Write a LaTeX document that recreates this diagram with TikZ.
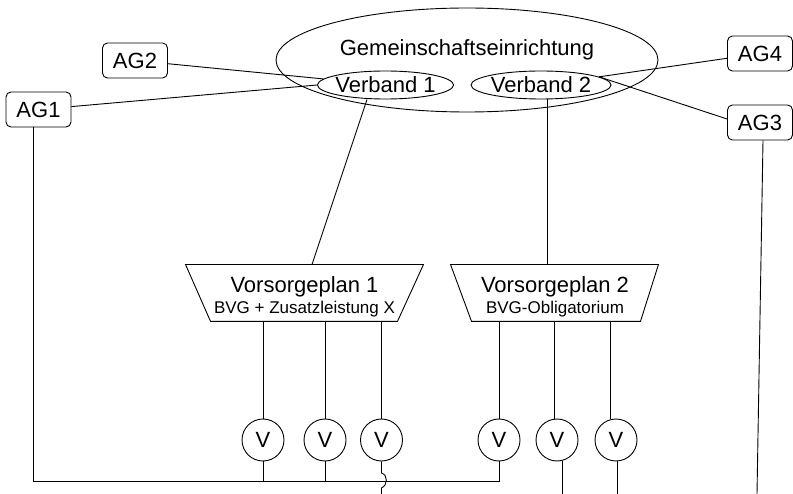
\documentclass[tikz,border=0pt]{standalone}
\usepackage{fontspec}
\setmainfont{Liberation Sans}
\usetikzlibrary{shapes.geometric}
\begin{document}
\begin{tikzpicture}[x=1pt,y=-1pt,
  every node/.style={font=\fontsize{22}{21}\selectfont, inner sep=0pt},
  every path/.style={line width=0.9pt},
  agbox/.style={draw, rounded corners=5pt, minimum width=65pt, minimum height=35pt},
  verb/.style={draw, ellipse, minimum height=28pt},
  planbox/.style={minimum height=56pt},
  smalltext/.style={font=\fontsize{17}{21}\selectfont, anchor=base},
  bigtext/.style={anchor=base},
  vcirc/.style={draw, circle, minimum size=42pt}
]
\useasboundingbox (0,0) rectangle (793,494);

% community institution
\node[draw, ellipse, minimum width=382pt, minimum height=104pt] (GE) at (467,60) {};
\node[bigtext] (GEt) at (467,56) {Gemeinschaftseinrichtung};
\node[verb, minimum width=136pt] (V1) at (385.5,85) {\makebox[0pt]{Verband 1}};
\node[verb, minimum width=140pt] (V2) at (541,85) {\makebox[0pt]{Verband 2}};

% employers
\node[agbox] (AG1) at (38.5,109.5) {AG1};
\node[agbox] (AG2) at (135,60.5) {AG2};
\node[agbox] (AG4) at (760,53.5) {AG4};
\node[agbox] (AG3) at (760,122.5) {AG3};

% plans
\node[planbox, minimum width=237pt] (VP1) at (304.5,293) {};
\draw (VP1.north west) -- (VP1.north east) -- ([xshift=-26pt]VP1.south east)
  -- ([xshift=25pt]VP1.south west) -- cycle;
\node[bigtext] (VP1a) at (304.5,293) {Vorsorgeplan 1};
\node[smalltext] (VP1b) at (304.5,314) {BVG + Zusatzleistung X};
\node[planbox, minimum width=207pt] (VP2) at (554.5,293) {};
\draw (VP2.north west) -- (VP2.north east) -- ([xshift=-18pt]VP2.south east)
  -- ([xshift=21pt]VP2.south west) -- cycle;
\node[bigtext] (VP2a) at (555,293) {Vorsorgeplan 2};
\node[smalltext] (VP2b) at (555,314) {BVG-Obligatorium};

% insured
\node[vcirc] (C1) at (263,440) {V};
\node[vcirc] (C2) at (325,440) {V};
\node[vcirc] (C3) at (381.5,440) {V};
\node[vcirc] (C4) at (499,440) {V};
\node[vcirc] (C5) at (557,440) {V};
\node[vcirc] (C6) at (616,440) {V};

\coordinate (J) at (33,481);
\coordinate (B3) at (381.5,494);
\coordinate (B5) at (562,494);
\coordinate (B6) at (757,494);

% connectors top
\draw (AG1) -- (V1.west);
\draw (AG2) -- (V1);
\draw (AG4) -- (V2.8);
\draw ([yshift=3.5pt]AG3.west) -- (V2.8);
\draw ([xshift=-18.5pt]V1.south) -- ([xshift=7.5pt]VP1.north);
\draw ([xshift=6pt]V2.south) -- ([xshift=6pt]V2.south |- VP2.north);

% plan to insured
\draw (C1.north) -- (C1.north |- VP1.south);
\draw (C2.north) -- (C2.north |- VP1.south);
\draw (C3.north) -- (C3.north |- VP1.south);
\draw (C4.north) -- (C4.north |- VP2.south);
\draw (C5.98) -- (C5.98 |- VP2.south);
\draw (C6.106) -- (C6.106 |- VP2.south);

% bottom wiring
\draw ([xshift=-5.5pt]AG1.south) -- (J) -- (C4.south |- J) -- (C4.south);
\draw (C1.south) -- (C1.south |- J);
\draw (C2.south) -- (C2.south |- J);
\draw (C3.south) -- ([yshift=8pt]C3.south |- J)
  .. controls ([xshift=6.5pt,yshift=6pt]C3.south |- J) and ([xshift=6.5pt,yshift=-4pt]C3.south |- J)
  .. ([yshift=-7pt]C3.south |- J) -- (B3);
\draw (C5.-76) -- (C5.-76 |- B5);
\draw (C6.-87) -- (C6.-87 |- B5);
\draw ([xshift=3pt]AG3.south) -- (B6);
\end{tikzpicture}
\end{document}
